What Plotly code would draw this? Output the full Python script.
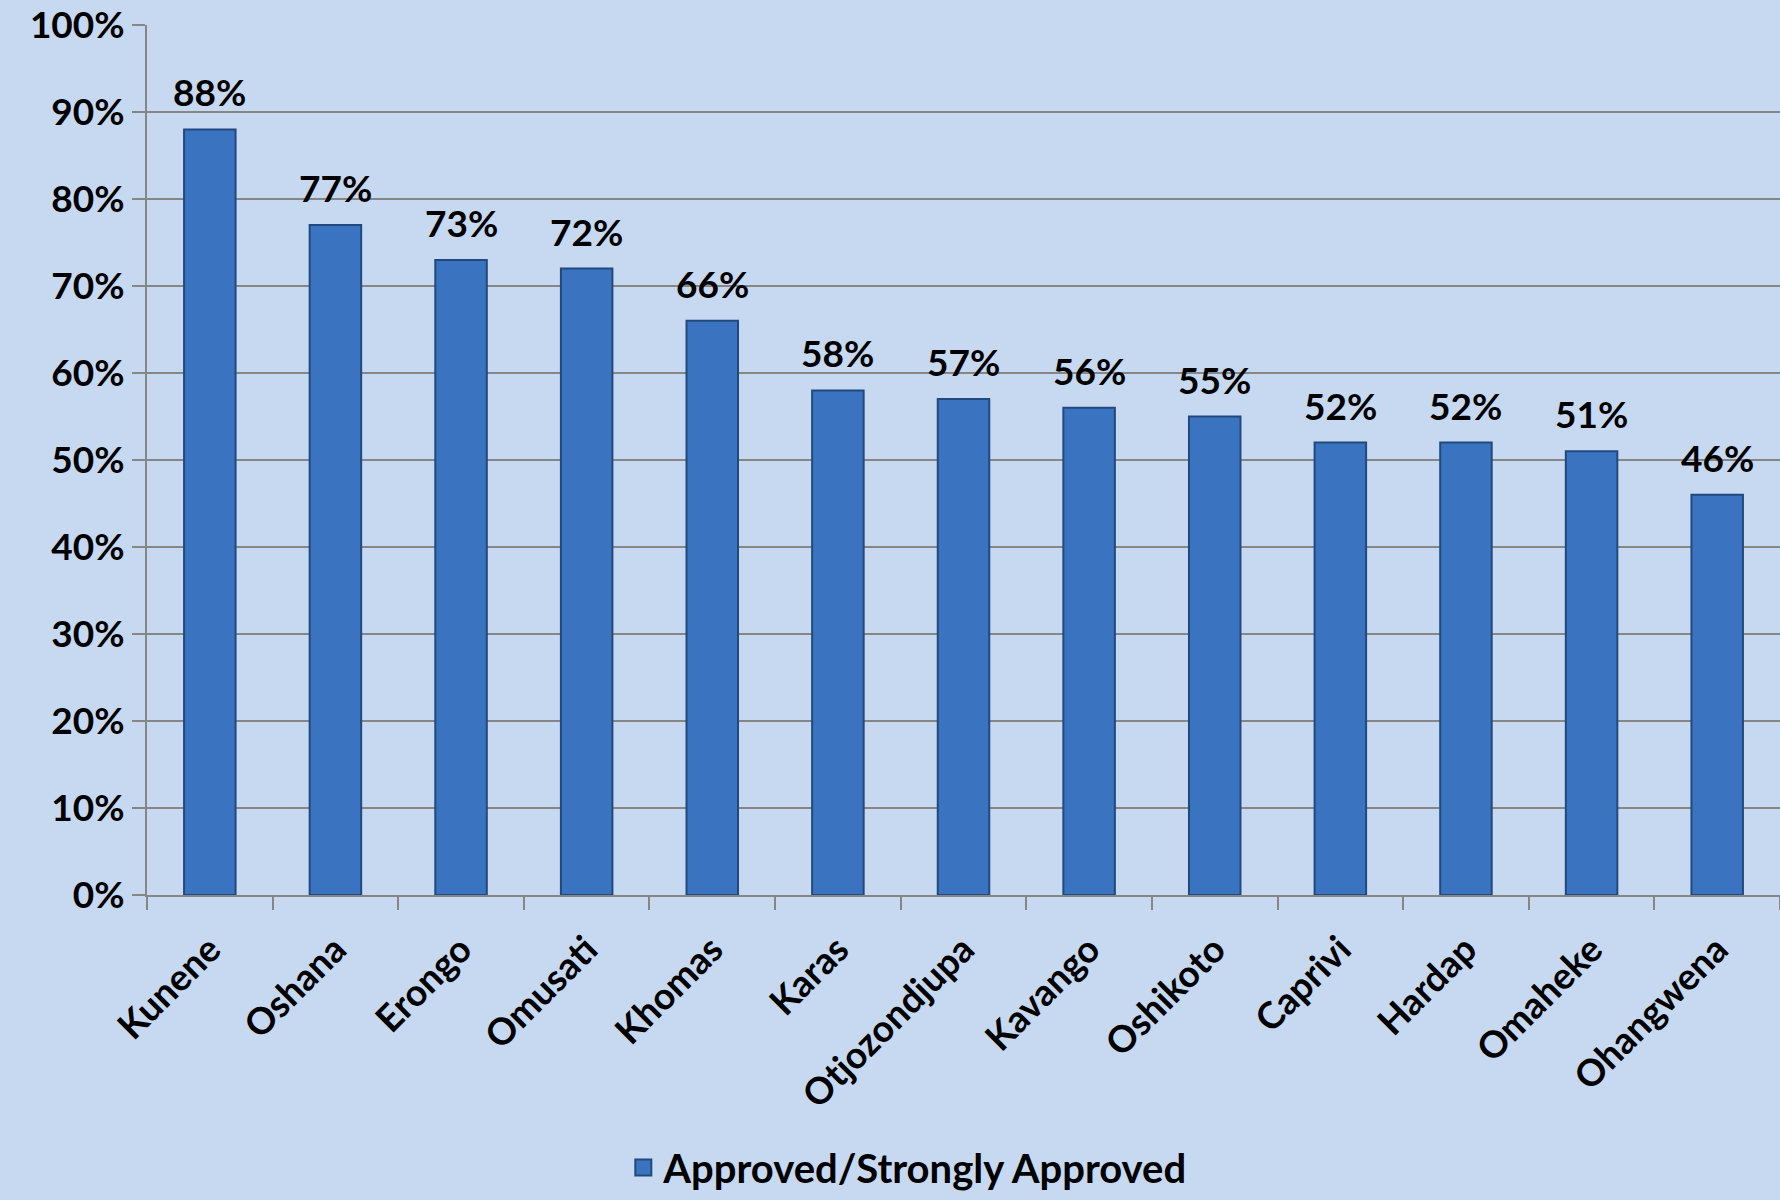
import plotly.graph_objects as go

regions = ["Kunene", "Oshana", "Erongo", "Omusati", "Khomas", "Karas", "Otjozondjupa",
           "Kavango", "Oshikoto", "Caprivi", "Hardap", "Omaheke", "Ohangwena"]
approved = [88, 77, 73, 72, 66, 58, 57, 56, 55, 52, 52, 51, 46]
y_ticks = [0, 10, 20, 30, 40, 50, 60, 70, 80, 90, 100]
series_name = "Approved/Strongly Approved"

FONT = "Lato, Carlito, Calibri, sans-serif"
BG = "#C6D9F1"
BAR = "#3A74C0"
EDGE = "#22497E"
FS = 37

fig = go.Figure()
fig.add_trace(go.Bar(
    x=regions, y=approved, name=series_name, showlegend=False,
    marker=dict(color=BAR, line=dict(color=EDGE, width=2)),
    width=0.41,
))
# legend entry with a larger square swatch
fig.add_trace(go.Scatter(
    x=[None], y=[None], mode="markers", name=series_name,
    marker=dict(symbol="square", size=25, color=BAR, line=dict(color=EDGE, width=2)),
))

for r, v in zip(regions, approved):
    fig.add_annotation(x=r, y=v, text=f"<b>{v}%</b>", showarrow=False,
                       yanchor="bottom", yshift=13,
                       font=dict(family=FONT, size=FS, color="black"))

fig.update_layout(
    width=1780, height=1200,
    paper_bgcolor=BG, plot_bgcolor=BG,
    margin=dict(l=147, r=0, t=25, b=305),
    font=dict(family=FONT, size=FS, color="black"),
    showlegend=True,
    legend=dict(orientation="h", xref="container", yref="container",
                x=0.51, xanchor="center", y=0.0, yanchor="bottom",
                font=dict(family=FONT, size=40, color="black", weight="bold"),
                bgcolor="rgba(0,0,0,0)", itemwidth=30),
    bargap=0.59,
)
fig.update_xaxes(
    type="category", tickangle=-45, tickson="boundaries",
    ticks="outside", ticklen=13, tickwidth=2, tickcolor="#868686",
    showline=True, linecolor="#868686", linewidth=2,
    showgrid=False, ticklabelstandoff=16,
    tickfont=dict(family=FONT, size=FS, color="black", weight="bold"),
)
fig.update_yaxes(
    range=[0, 100], tickvals=y_ticks, ticktext=[f"{t}%" for t in y_ticks],
    ticks="outside", ticklen=13, tickwidth=2, tickcolor="#868686",
    showline=True, linecolor="#868686", linewidth=2,
    showgrid=True, gridcolor="#868686", gridwidth=2,
    zeroline=False,
    tickfont=dict(family=FONT, size=FS, color="black", weight="bold"),
)

fig.write_html("out.html", config={"displayModeBar": False},
               post_script="document.body.style.margin='0';document.body.style.background='%s';" % BG)
